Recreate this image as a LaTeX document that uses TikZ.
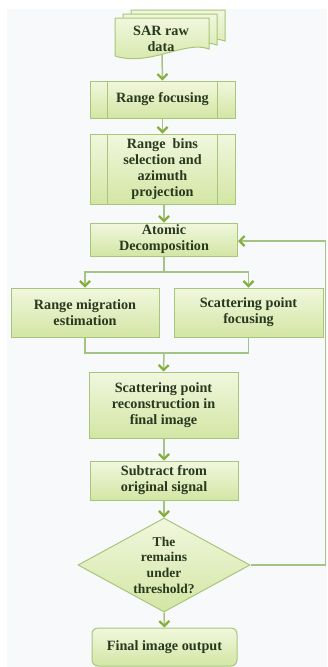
\documentclass[tikz,border=0pt]{standalone}
\usepackage{fontspec}
\setmainfont{Liberation Serif}
\usetikzlibrary{shapes.geometric,arrows.meta}
\definecolor{bgc}{HTML}{F8F9FB}
\definecolor{fillA}{HTML}{F1F7DE}
\definecolor{fillB}{HTML}{D3E6A4}
\definecolor{edgec}{HTML}{A8C67A}
\definecolor{connc}{HTML}{A6C387}
\definecolor{tipc}{HTML}{86AE3C}
\definecolor{txtc}{HTML}{28391F}
\begin{document}
\begin{tikzpicture}[x=1pt,y=-1pt,
  shp/.style={draw=edgec, line width=1pt, top color=fillA, bottom color=fillB},
  box/.style={shp, font=\fontsize{14.2}{16}\selectfont\bfseries, text=txtc, align=center, inner sep=0pt},
  txt/.style={font=\fontsize{14.2}{16}\selectfont\bfseries, text=txtc, align=center, inner sep=0pt},
  line/.style={draw=connc, line width=1.5pt},
  conn/.style={line, -{Straight Barb[length=5pt,width=10pt,line width=2.2pt,color=tipc]}},
  inner/.style={draw=edgec, line width=1pt}
]
\useasboundingbox (0,0) rectangle (327,667);
\fill[bgc] (0,0) rectangle (327,667);
\fill[white] (0,0) rectangle (327,9);
\fill[white] (0,0) rectangle (7,667);

% multi-document
\foreach \dx/\dy in {16/-8, 8/-4, 0/0}{
  \begin{scope}[shift={(\dx,\dy)}]
    \path[shp] (115,18) -- (209,18) -- (209,49) .. controls (185,40) and (150,67) .. (115,56) -- cycle;
  \end{scope}
}
\node[txt] (doc) at (161,39) {SAR raw\\data};
\coordinate (docb) at (162,55);

\node[box, minimum width=145, minimum height=37] (rf) at (162.5,99.5) {Range focusing};
\node[box, minimum width=145, minimum height=70] (rb) at (162.5,169) {Range\ \ bins\\selection and\\azimuth\\projection};
\foreach \n in {rf,rb}{
  \draw[inner] ([xshift=18pt]\n.north west) -- ([xshift=18pt]\n.south west);
  \draw[inner] ([xshift=-18pt]\n.north east) -- ([xshift=-18pt]\n.south east);
}
\node[box, minimum width=147, minimum height=33] (ad) at (164,239.5) {Atomic\\Decomposition};
\node[box, minimum width=148, minimum height=49] (rm) at (85,312.5) {Range migration\\estimation};
\node[box, minimum width=149, minimum height=49] (sf) at (248.5,312.5) {Scattering point\\focusing};
\node[box, minimum width=149, minimum height=66] (sr) at (163.5,405) {Scattering point\\reconstruction in\\final image};
\node[box, minimum width=148, minimum height=39] (sub) at (164,480.5) {Subtract from\\original signal};
\node[shp, diamond, aspect=1.83, minimum width=172, minimum height=94, inner sep=0pt] (dia) at (164,565) {};
\node[txt, font=\fontsize{13.5}{15.7}\selectfont\bfseries] (diat) at (dia.center) {The\\remains\\under\\threshold?};
\node[box, rounded corners=6pt, minimum width=145, minimum height=38] (fin) at (164.5,647) {Final image output};

\coordinate (split) at (164,272);
\coordinate (merge) at (164,353);
\coordinate (fbr) at (325.5,565);
\coordinate (fbt) at (325.5,241);

\draw[conn] (docb) -- (rf.north);
\draw[conn] (rf.south) -- (rb.north);
\draw[conn] (rb.south -| ad.north) -- (ad.north);
\draw[line] (ad.south) -- (split);
\draw[conn] (split) -| (rm.north);
\draw[conn] (split) -| (sf.north);
\draw[line] (rm.south) |- (merge);
\draw[line] (sf.south) |- (merge);
\draw[conn] (merge) -- (sr.north);
\draw[conn] (sr.south -| sub.north) -- (sub.north);
\draw[conn] (sub.south) -- (dia.north);
\draw[conn] (dia.south) -- (fin.north);
\draw[line] (dia.east) -- (fbr) -- (fbt);
\draw[conn] (fbt) -- (ad.east |- fbt);
\end{tikzpicture}
\end{document}
